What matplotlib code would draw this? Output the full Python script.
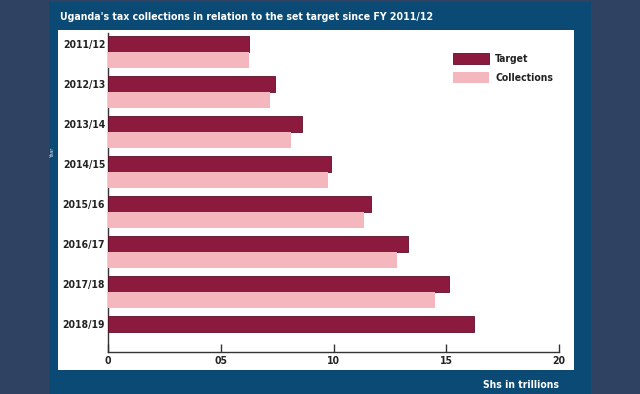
import matplotlib.pyplot as plt
from matplotlib.patches import Rectangle

W, H = 640, 394

years = ["2011/12", "2012/13", "2013/14", "2014/15",
         "2015/16", "2016/17", "2017/18", "2018/19"]
target = [6.25, 7.4, 8.6, 9.9, 11.65, 13.3, 15.1, 16.25]
collections = [6.25, 7.2, 8.1, 9.75, 11.35, 12.8, 14.5]
x_ticks = [0, 5, 10, 15, 20]
x_labels = ["0", "05", "10", "15", "20"]

MAROON = "#8c1a3e"
PINK = "#f4b7bd"
PANEL = "#0a4a74"
OUTER = "#2f4261"

plt.rcParams['font.family'] = ["DejaVu Sans"]
plt.rcParams['font.stretch'] = "condensed"


def px(x, y, w, h):
    # pixel box (top-left origin) -> figure fraction
    return (x / W, 1 - (y + h) / H, w / W, h / H)


def main():
    fig = plt.figure(figsize=(W / 100, H / 100), dpi=100)
    fig.patch.set_facecolor(OUTER)

    x, y, w, h = px(49, 2, 542, 392)
    fig.patches.append(Rectangle((x, y), w, h, transform=fig.transFigure,
                                 facecolor=PANEL, edgecolor="none", zorder=-2))
    x, y, w, h = px(58, 30, 516, 340)
    fig.patches.append(Rectangle((x, y), w, h, transform=fig.transFigure,
                                 facecolor="white", edgecolor="none", zorder=-1))

    fig.text(60 / W, 1 - 17 / H,
             "Uganda's tax collections in relation to the set target since FY 2011/12",
             color="white", fontsize=7.6, fontweight="bold", va="center")
    fig.text(521 / W, 1 - 385 / H, "Shs in trillions", color="white",
             fontsize=7.5, fontweight="bold", ha="center", va="center")
    fig.text(53 / W, 1 - 153 / H, "Year", color="#dde6ee", fontsize=4,
             rotation=90, ha="center", va="center")

    ax = fig.add_axes(px(108, 33, 451, 319))
    ax.set_zorder(2)
    ax.set_facecolor("none")

    pos = list(range(len(years)))
    ax.barh(pos, target, height=0.4, color=MAROON, edgecolor="#5e0f28",
            linewidth=0.6, label="Target", zorder=3)
    ax.barh([p + 0.4 for p in pos[:len(collections)]], collections,
            height=0.4, color=PINK, edgecolor="none", label="Collections",
            zorder=3)

    ax.set_xlim(0, 20)
    ax.set_ylim(7.7, -0.275)
    ax.set_xticks(x_ticks)
    ax.set_xticklabels(x_labels)
    ax.set_yticks(pos)
    ax.set_yticklabels(years)
    ax.tick_params(axis="x", direction="in", length=6, width=1,
                   color="#333333", labelsize=7.5, pad=3)
    ax.tick_params(axis="y", length=0, labelsize=7.5, pad=2)
    for lab in ax.get_xticklabels() + ax.get_yticklabels():
        lab.set_fontweight("bold")
        lab.set_color("#222222")

    for side in ("top", "right"):
        ax.spines[side].set_visible(False)
    for side in ("left", "bottom"):
        ax.spines[side].set_color("#333333")
        ax.spines[side].set_linewidth(1)

    leg = ax.legend(loc="upper left",
                    bbox_to_anchor=((453 - 108) / 451 - 0.01, 1.0 - 16 / 319),
                    frameon=False, fontsize=7.5, handlelength=3.5,
                    handleheight=1.2, labelspacing=0.8, handletextpad=0.6,
                    borderaxespad=0)
    for t in leg.get_texts():
        t.set_fontweight("bold")
        t.set_color("#222222")

    fig.savefig("out.png", dpi=100, facecolor=fig.get_facecolor())


if __name__ == "__main__":
    main()
